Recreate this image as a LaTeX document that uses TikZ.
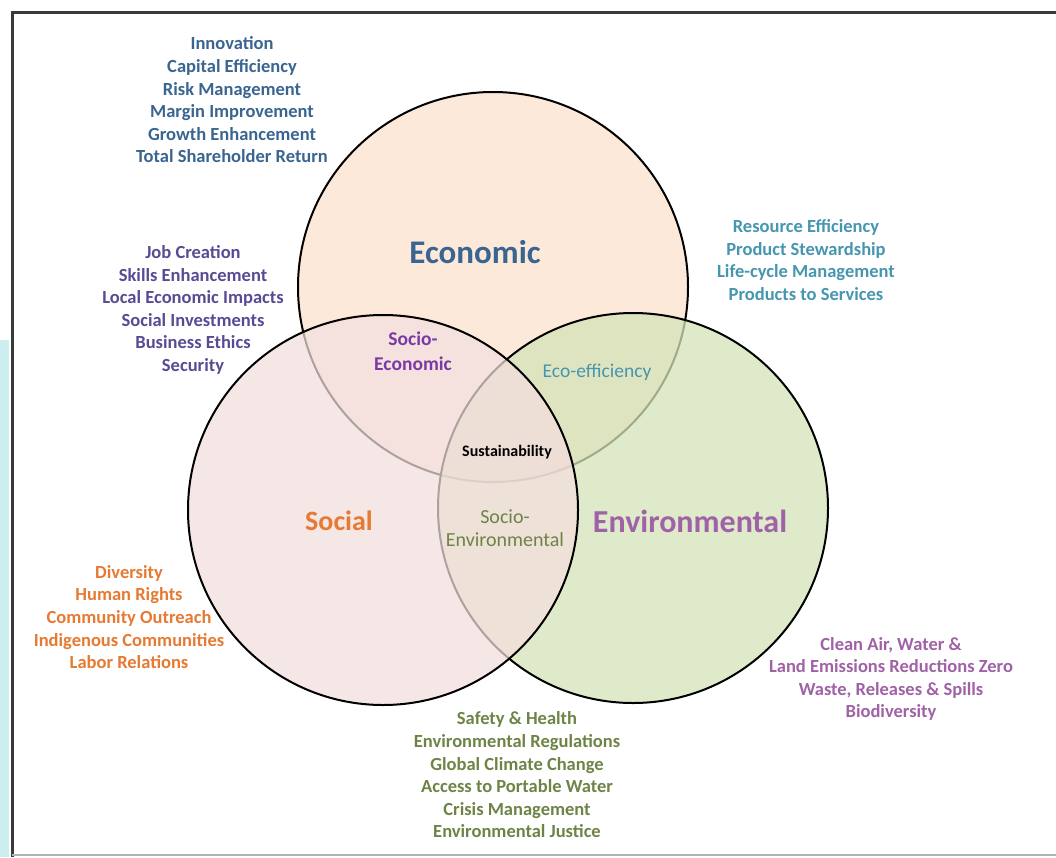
\documentclass[tikz,border=0pt]{standalone}
\usepackage{fontspec}
\setmainfont{Carlito}
\definecolor{econfill}{HTML}{FDE9DA}
\definecolor{socfill}{HTML}{F3DEDF}
\definecolor{envfill}{HTML}{D4E3B8}
\definecolor{econtxt}{HTML}{3A6591}
\definecolor{ecotxt}{HTML}{4696B0}
\definecolor{setxt}{HTML}{5A4A94}
\definecolor{soctxt}{HTML}{E67A32}
\definecolor{envtxt}{HTML}{A062A6}
\definecolor{seotxt}{HTML}{6E8446}
\definecolor{seclbl}{HTML}{7A3AA6}
\definecolor{framegray}{HTML}{3A3A3A}
\definecolor{tealstrip}{HTML}{CDEEEE}
\tikzset{
  lst/.style={align=center, font=\fontsize{18.5}{22.6}\selectfont\bfseries, inner sep=0pt},
  biglbl/.style={inner sep=0pt},
  midlbl/.style={align=center, inner sep=0pt},
  ring/.style={circle, minimum size=390pt, inner sep=0pt, draw=black, line width=2pt}
}
\begin{document}
\begin{tikzpicture}[x=1pt,y=-1pt]
\useasboundingbox (0,0) rectangle (1056,857);
\fill[white] (0,0) rectangle (1056,857);
\fill[tealstrip] (0,340) rectangle (9,857);
\draw[framegray, line width=3pt] (12,857) -- (12,12) -- (1056,12);
\draw[gray!60, line width=1.5pt] (12,855) -- (1056,855);
% circles
\node[ring, fill=econfill] (econ) at (493,287) {};
\node[ring, fill=envfill, fill opacity=0.75] (env) at (633,508) {};
\node[ring, fill=socfill, fill opacity=0.72] (soc) at (383,510) {};
% lists
\node[lst, text=econtxt] (econlist) at (232,100) {Innovation\\Capital Efficiency\\Risk Management\\Margin Improvement\\Growth Enhancement\\Total Shareholder Return};
\node[lst, text=ecotxt] (ecolist) at (806,260) {Resource Efficiency\\Product Stewardship\\Life-cycle Management\\Products to Services};
\node[lst, text=setxt] (selist) at (193,310) {Job Creation\\Skills Enhancement\\Local Economic Impacts\\Social Investments\\Business Ethics\\Security};
\node[lst, text=soctxt] (soclist) at (129,617) {Diversity\\Human Rights\\Community Outreach\\Indigenous Communities\\Labor Relations};
\node[lst, text=envtxt] (envlist) at (891,679) {Clean Air, Water \&\\Land Emissions Reductions Zero\\Waste, Releases \& Spills\\Biodiversity};
\node[lst, text=seotxt] (seolist) at (517,775) {Safety \& Health\\Environmental Regulations\\Global Climate Change\\Access to Portable Water\\Crisis Management\\Environmental Justice};
% labels
\node[biglbl, text=econtxt, font=\fontsize{33}{36}\selectfont\bfseries] (econlbl) at (475,252) {Economic};
\node[biglbl, text=soctxt, font=\fontsize{28}{32}\selectfont\bfseries] (soclbl) at (339,521) {Social};
\node[biglbl, text=envtxt, font=\fontsize{32}{36}\selectfont\bfseries] (envlbl) at (690,521) {Environmental};
\node[midlbl, text=seclbl, font=\fontsize{19.5}{25}\selectfont\bfseries] (selbl) at (413,351) {Socio-\\Economic};
\node[midlbl, text=ecotxt, font=\fontsize{19.5}{23}\selectfont] (ecolbl) at (597,372) {Eco-efficiency};
\node[midlbl, text=black, font=\fontsize{16}{18}\selectfont\bfseries] (sustlbl) at (507,452) {Sustainability};
\node[midlbl, text=seotxt, font=\fontsize{20}{23}\selectfont] (seolbl) at (505,528) {Socio-\\Environmental};
\end{tikzpicture}
\end{document}
